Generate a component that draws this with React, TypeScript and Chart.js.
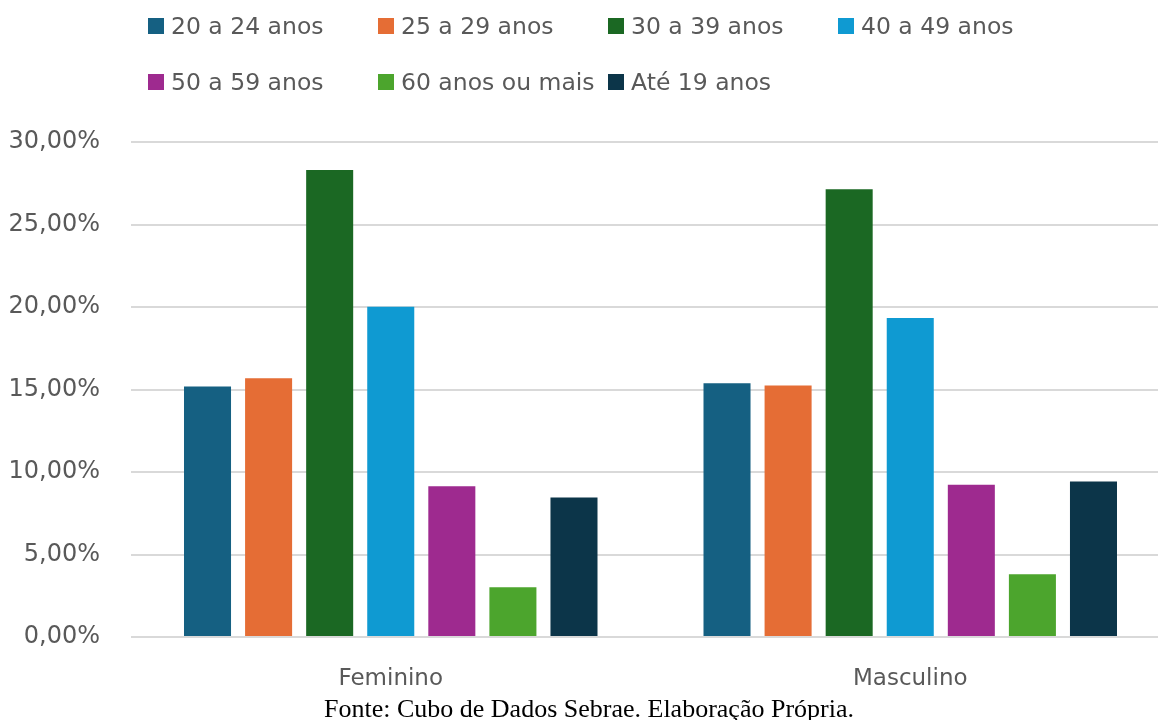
import React, { useEffect, useRef } from "react";
import { Chart, registerables } from "chart.js";

Chart.register(...registerables);

// Distribuição por faixa etária e sexo (%)
const categories = ["Feminino", "Masculino"];
const seriesLabels = [
  "20 a 24 anos",
  "25 a 29 anos",
  "30 a 39 anos",
  "40 a 49 anos",
  "50 a 59 anos",
  "60 anos ou mais",
  "Até 19 anos",
];
const seriesColors = [
  "#156082",
  "#E56D35",
  "#1B6823",
  "#0F9AD2",
  "#9E2A8F",
  "#4CA52D",
  "#0C3549",
];
const age20to24 = [15.18, 15.38];
const age25to29 = [15.68, 15.25];
const age30to39 = [28.3, 27.13];
const age40to49 = [20.01, 19.34];
const age50to59 = [9.13, 9.23];
const age60plus = [3.01, 3.81];
const ageUpTo19 = [8.46, 9.42];
const seriesValues = [
  age20to24,
  age25to29,
  age30to39,
  age40to49,
  age50to59,
  age60plus,
  ageUpTo19,
];
const yTicks = [0, 5, 10, 15, 20, 25, 30];

const FONT = "'DejaVu Sans', sans-serif";
const TEXT_COLOR = "#595959";
// the plot runs a little past the visible right edge
const CANVAS_W = 1170;
const VIEW_W = 1158;
const VIEW_H = 720;

function formatPercent(v: number): string {
  return v.toFixed(2).replace(".", ",") + "%";
}

export default function App() {
  const canvasRef = useRef<HTMLCanvasElement | null>(null);

  useEffect(() => {
    document.body.style.margin = "0";
    const canvas = canvasRef.current;
    if (!canvas) return;
    const chart = new Chart(canvas, {
      type: "bar",
      data: {
        labels: categories,
        datasets: seriesLabels.map((label, i) => ({
          label,
          data: seriesValues[i],
          backgroundColor: seriesColors[i],
          borderWidth: 0,
          categoryPercentage: 0.823,
          barPercentage: 0.77,
        })),
      },
      options: {
        animation: false,
        responsive: false,
        maintainAspectRatio: false,
        layout: { padding: { top: 142, left: 0, right: 0, bottom: 0 } },
        plugins: {
          legend: { display: false },
          tooltip: { enabled: false },
        },
        scales: {
          x: {
            grid: { display: false, drawTicks: false },
            border: { display: false },
            ticks: {
              color: TEXT_COLOR,
              font: { family: FONT, size: 23 },
              padding: 28,
            },
            afterFit: (scale: any) => {
              scale.height = 83;
            },
          },
          y: {
            min: 0,
            max: 30,
            afterBuildTicks: (scale: any) => {
              scale.ticks = yTicks.map((v) => ({ value: v }));
            },
            grid: { color: "#d9d9d9", lineWidth: 2, drawTicks: false },
            border: { display: false },
            ticks: {
              color: TEXT_COLOR,
              font: { family: FONT, size: 24 },
              padding: 31,
              callback: (v: any) => formatPercent(Number(v)),
            },
            afterFit: (scale: any) => {
              scale.width = 131;
            },
          },
        },
      },
    });
    return () => chart.destroy();
  }, []);

  return (
    <div
      style={{
        position: "relative",
        width: VIEW_W,
        height: VIEW_H,
        background: "#ffffff",
        overflow: "hidden",
      }}
    >
      <canvas
        ref={canvasRef}
        width={CANVAS_W}
        height={VIEW_H}
        style={{ position: "absolute", left: 0, top: 0, width: CANVAS_W, height: VIEW_H }}
      />
      {seriesLabels.map((label, i) => {
        const col = i % 4;
        const row = Math.floor(i / 4);
        return (
          <div
            key={label}
            style={{
              position: "absolute",
              left: 148 + col * 230,
              top: 26 + row * 56 - 14,
              height: 28,
              display: "flex",
              alignItems: "center",
              whiteSpace: "nowrap",
              fontFamily: FONT,
              fontSize: 23.5,
              color: TEXT_COLOR,
            }}
          >
            <span
              style={{
                display: "inline-block",
                width: 16,
                height: 16,
                background: seriesColors[i],
                marginRight: 7,
              }}
            />
            <span>{label}</span>
          </div>
        );
      })}
      <div
        style={{
          position: "absolute",
          left: 0,
          width: VIEW_W,
          top: 696,
          textAlign: "center",
          fontFamily: "'Liberation Serif', 'Times New Roman', serif",
          fontSize: 26,
          lineHeight: "26px",
          color: "#000000",
          paddingLeft: 20,
          boxSizing: "border-box",
          whiteSpace: "nowrap",
        }}
      >
        Fonte: Cubo de Dados Sebrae. Elaboração Própria.
      </div>
    </div>
  );
}
